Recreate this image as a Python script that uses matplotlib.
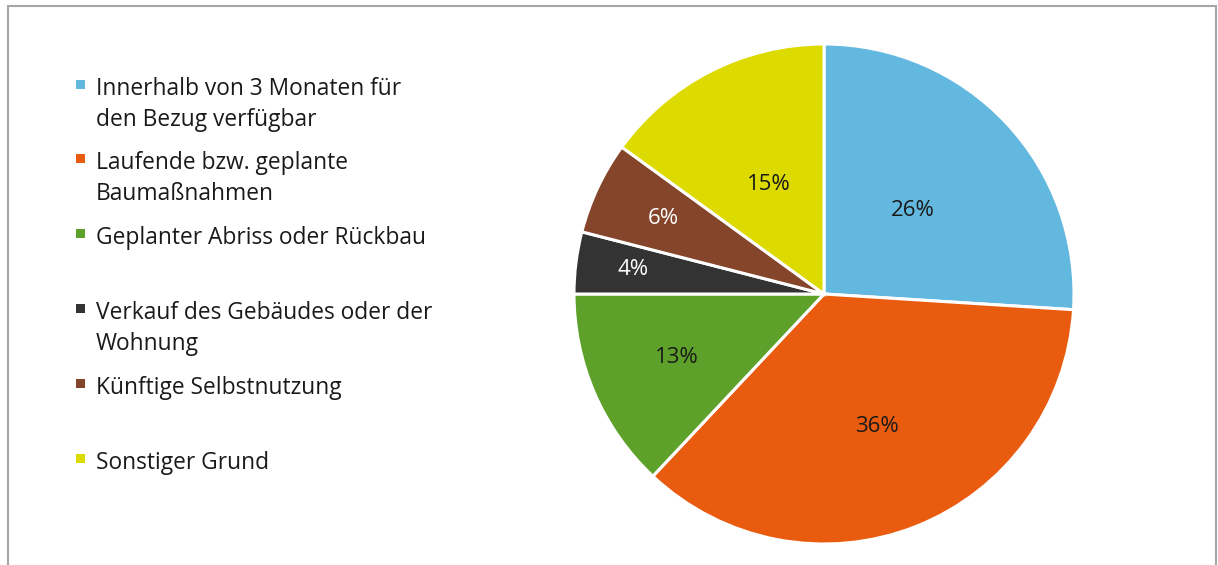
import numpy as np
import matplotlib.pyplot as plt
from matplotlib.patches import Rectangle

plt.rcParams['font.family'] = ['Open Sans', 'DejaVu Sans']

categories = [
    'Innerhalb von 3 Monaten für\nden Bezug verfügbar',
    'Laufende bzw. geplante\nBaumaßnahmen',
    'Geplanter Abriss oder Rückbau',
    'Verkauf des Gebäudes oder der\nWohnung',
    'Künftige Selbstnutzung',
    'Sonstiger Grund',
]
shares = [26, 36, 13, 4, 6, 15]

colors = ['#63B8DF', '#E95B0F', '#5EA12A', '#333333', '#85452B', '#DDDA00']
label_colors = ['#1a1a1a', '#1a1a1a', '#1a1a1a', '#ffffff', '#ffffff', '#1a1a1a']
label_dist = [0.49, 0.57, 0.64, 0.77, 0.71, 0.49]
legend_base = [95, 169, 244, 319, 394, 469]  # baseline of first line, px from top

W, H = 1218, 565
fig = plt.figure(figsize=(W / 100, H / 100), dpi=100)

# outer frame
fig.patches.append(Rectangle((8 / W, -0.01), (1216 - 8) / W, (H - 6) / H + 0.01,
                             transform=fig.transFigure, fill=False,
                             edgecolor='#A6A6A6', linewidth=1.5))

cx, cy, r = 824, 294, 250
ax = fig.add_axes([(cx - r) / W, (H - cy - r) / H, 2 * r / W, 2 * r / H])
wedges, _ = ax.pie(shares, colors=colors, startangle=90, counterclock=False,
                   radius=1, wedgeprops=dict(edgecolor='white', linewidth=2.2))
ax.set_xlim(-1, 1)
ax.set_ylim(-1, 1)
ax.set_aspect('equal')
ax.axis('off')

for w, v, d, c in zip(wedges, shares, label_dist, label_colors):
    mid = np.deg2rad((w.theta1 + w.theta2) / 2)
    ax.text(d * np.cos(mid), d * np.sin(mid), f'{v}%', ha='center', va='center',
            fontsize=16, color=c)

# legend
for name, col, yb in zip(categories, colors, legend_base):
    fig.patches.append(Rectangle((76 / W, (H - yb + 6) / H), 9 / W, 9 / H,
                                 transform=fig.transFigure, facecolor=col,
                                 edgecolor='none'))
    for i, line in enumerate(name.split('\n')):
        fig.text(96 / W, (H - yb - i * 31) / H, line, ha='left', va='baseline',
                 fontsize=16.4, color='#1a1a1a')

fig.savefig('out.png', dpi=100)
